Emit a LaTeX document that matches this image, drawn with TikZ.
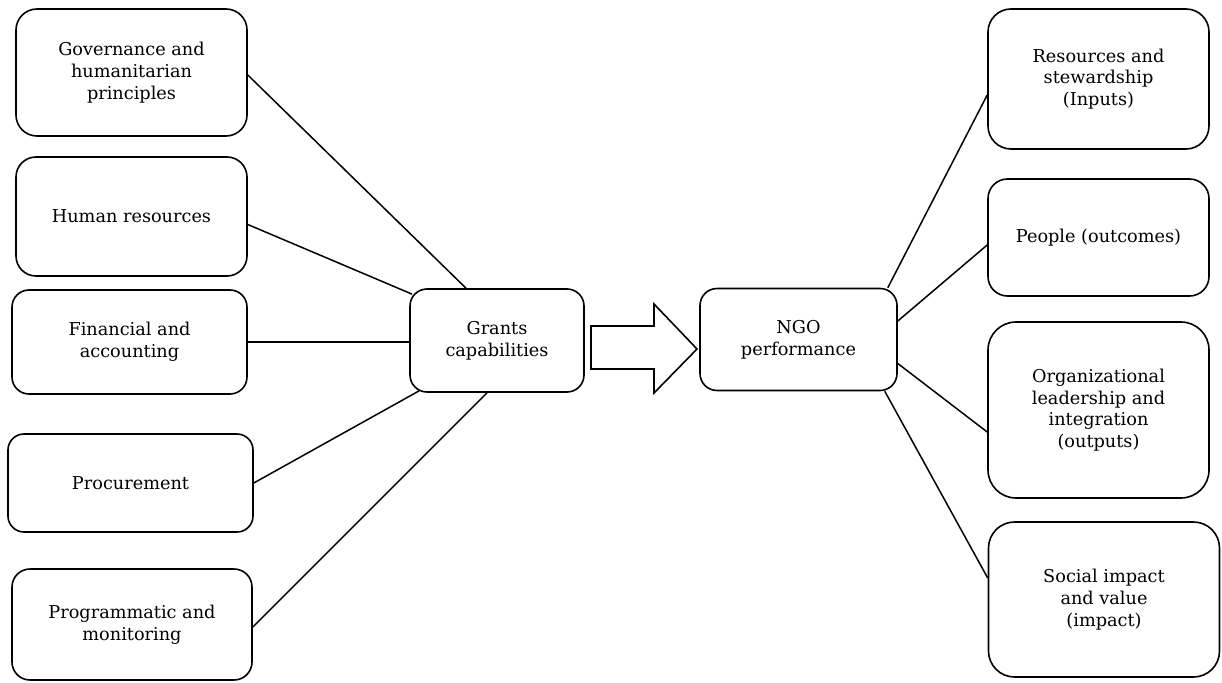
\documentclass[tikz,border=0pt]{standalone}
\usepackage{fontspec}
\setmainfont{DejaVu Serif}
\usetikzlibrary{calc}
\begin{document}
\begin{tikzpicture}[x=1pt,y=-1pt,
  box/.style={draw=black,line width=1.6pt,fill=white,align=center,inner sep=0pt,
    font=\fontsize{17.7}{21.7}\selectfont},
  link/.style={draw=black,line width=1.5pt},
  blockarrow/.style={draw=black,line width=1.6pt,fill=white,line join=miter}]
\useasboundingbox[fill=white] (0,0) rectangle (1222,682);
% left column
\node[box,minimum width=231pt,minimum height=127pt,rounded corners=21pt] (gov) at (131.5,72.5) {Governance and\\humanitarian\\principles};
\node[box,minimum width=231pt,minimum height=119pt,rounded corners=20pt] (hr) at (131.5,216.5) {Human resources};
\node[box,minimum width=235pt,minimum height=104pt,rounded corners=17pt] (fin) at (129.5,342) {Financial and\\accounting};
\node[box,minimum width=245pt,minimum height=98pt,rounded corners=16pt] (proc) at (130.5,483) {Procurement};
\node[box,minimum width=240pt,minimum height=111pt,rounded corners=18pt] (prog) at (132,624.5) {Programmatic and\\monitoring};
% centre
\node[box,minimum width=174pt,minimum height=103pt,rounded corners=17pt] (grants) at (497,340.5) {Grants\\capabilities};
\node[box,minimum width=197pt,minimum height=102pt,rounded corners=17pt] (ngo) at (798.5,339.5) {NGO\\performance};
% right column
\node[box,minimum width=221pt,minimum height=140pt,rounded corners=23pt] (res) at (1098.5,79) {Resources and\\stewardship\\(Inputs)};
\node[box,minimum width=221pt,minimum height=117pt,rounded corners=19.5pt] (ppl) at (1098.5,237.5) {People (outcomes)};
\node[box,minimum width=221pt,minimum height=176pt,rounded corners=28pt] (org) at (1098.5,410) {Organizational\\leadership and\\integration\\(outputs)};
\node[box,minimum width=231pt,minimum height=155pt,rounded corners=26pt] (soc) at (1104,599.5) {Social impact\\ and value\\(impact)};
% block arrow
\coordinate (a1) at (591,326);
\coordinate (a2) at (654,326);
\coordinate (a3) at (654,304);
\coordinate (a4) at (697,349);
\coordinate (a5) at (654,393);
\coordinate (a6) at (654,369);
\coordinate (a7) at (591,369);
\draw[blockarrow] (a1) -- (a2) -- (a3) -- (a4) -- (a5) -- (a6) -- (a7) -- cycle;
% left connectors
\draw[link] ($(gov.east)+(0,2.5)$) -- ($(grants.north)+(-31,0)$);
\draw[link] ($(hr.east)+(0,8)$) -- ($(grants.north west)+(3,6)$);
\draw[link] (fin.east) -- (fin.east -| grants.west);
\draw[link] (proc.east) -- ($(grants.south west)+(10,-2)$);
\draw[link] ($(prog.east)+(0,2.5)$) -- ($(grants.south)+(-10,0)$);
% right connectors
\draw[link] ($(ngo.north east)+(-10,0)$) -- ($(res.west)+(0,16)$);
\draw[link] ($(ngo.east)+(0,-18.5)$) -- ($(ppl.west)+(0,7.5)$);
\draw[link] ($(ngo.east)+(0,24)$) -- ($(org.west)+(0,22)$);
\draw[link] ($(ngo.south east)+(-13,0)$) -- ($(soc.west)+(0,-21.5)$);
\end{tikzpicture}
\end{document}
